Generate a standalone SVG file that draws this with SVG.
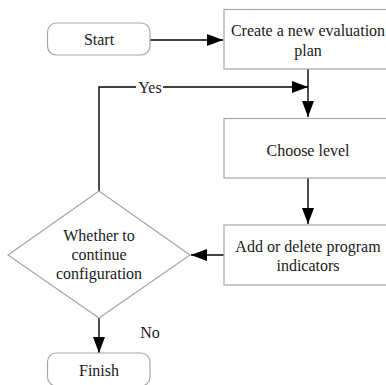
<svg xmlns="http://www.w3.org/2000/svg" width="386" height="385" viewBox="0 0 386 385">
<defs>
<style>
.box{fill:#fff;stroke:#a6a6a6;stroke-width:1.2}
.t{font-size:16px;fill:#1a1a1a;text-anchor:middle}
.c{fill:none;stroke:#000;stroke-width:1.4}
</style>
<marker id="ah" markerUnits="userSpaceOnUse" markerWidth="16" markerHeight="12" refX="16" refY="6" orient="auto">
<path d="M0,0 L16,6 L0,12 Z" fill="#000"/>
</marker>
</defs>
<rect width="386" height="385" fill="#fff"/>
<g font-family="Liberation Serif, Tinos, Times New Roman, DejaVu Serif, serif">
<g id="connectors">
<path class="c" d="M150,40 H223" marker-end="url(#ah)"/>
<path class="c" d="M308,69 V117" marker-end="url(#ah)"/>
<path class="c" d="M99,191 V87 H136"/>
<path class="c" d="M163,87 H308" marker-end="url(#ah)"/>
<path class="c" d="M308,178 V224" marker-end="url(#ah)"/>
<path class="c" d="M224,255 H191" marker-end="url(#ah)"/>
<path class="c" d="M99,318 V353" marker-end="url(#ah)"/>
<text class="t" x="150" y="92.5">Yes</text>
<text class="t" x="150" y="337.5">No</text>
</g>
<g id="start">
<rect class="box" x="47.5" y="23" width="102.5" height="32" rx="9"/>
<text class="t" x="99" y="44.5">Start</text>
</g>
<g id="create">
<rect class="box" x="224" y="9.5" width="170" height="59.5"/>
<text class="t" x="308" y="35.5">Create a new evaluation</text>
<text class="t" x="308" y="55.5">plan</text>
</g>
<g id="choose">
<rect class="box" x="224" y="118.5" width="170" height="59.5"/>
<text class="t" x="308" y="155.5">Choose level</text>
</g>
<g id="add">
<rect class="box" x="224" y="225" width="170" height="60"/>
<text class="t" x="308" y="251.5">Add or delete program</text>
<text class="t" x="308" y="270.5">indicators</text>
</g>
<g id="decision">
<path class="box" d="M99,191 L190,255 L99,318 L8,255 Z"/>
<text class="t" x="99" y="241">Whether to</text>
<text class="t" x="99" y="260">continue</text>
<text class="t" x="99" y="279">configuration</text>
</g>
<g id="finish">
<rect class="box" x="47.5" y="353" width="102.5" height="33" rx="9"/>
<text class="t" x="99" y="375.5">Finish</text>
</g>
</g>
</svg>
